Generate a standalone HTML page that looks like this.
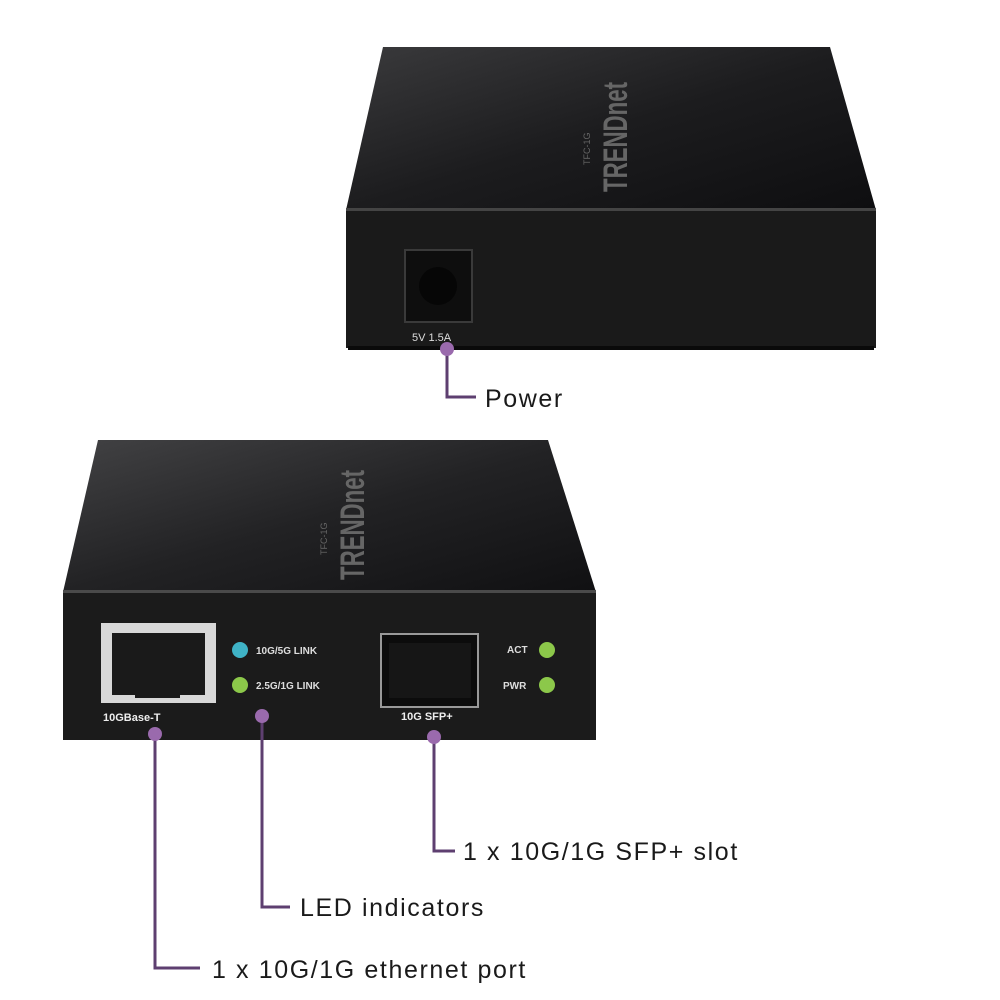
<!DOCTYPE html>
<html><head><meta charset="utf-8"><style>
html,body{margin:0;padding:0;background:#fff;width:1000px;height:1000px;overflow:hidden}
svg{display:block}
text{font-family:"Liberation Sans",sans-serif}
</style></head><body>
<svg width="1000" height="1000" viewBox="0 0 1000 1000">
<defs>
<linearGradient id="tg1" x1="0" y1="0" x2="1" y2="1">
<stop offset="0" stop-color="#3a3a3c"/><stop offset="0.5" stop-color="#1c1c1e"/><stop offset="1" stop-color="#0e0e10"/></linearGradient>
<linearGradient id="tg2" x1="0" y1="0" x2="1" y2="1">
<stop offset="0" stop-color="#424244"/><stop offset="0.5" stop-color="#222224"/><stop offset="1" stop-color="#101012"/></linearGradient>
</defs>
<!-- top device -->
<polygon points="383,47 830,47 876,210 346,210" fill="url(#tg1)"/>
<rect x="346" y="208" width="530" height="140" fill="#1a1a1a"/>
<rect x="346" y="208" width="530" height="3" fill="#444"/>
<rect x="348" y="346" width="526" height="4" fill="#0a0a0a"/>
<text transform="translate(627,192) rotate(-90)" font-size="34" font-weight="bold" fill="#666" textLength="110" lengthAdjust="spacingAndGlyphs">TRENDnet</text>
<text transform="translate(590,165) rotate(-90)" font-size="9" fill="#666">TFC-1G</text>
<rect x="405" y="250" width="67" height="72" fill="#0e0e0e" stroke="#3a3a3a" stroke-width="2"/>
<circle cx="438" cy="286" r="19" fill="#060606"/>
<text x="412" y="341" font-size="11" fill="#ddd">5V  1.5A</text>
<!-- bottom device -->
<polygon points="98,440 548,440 596,592 63,592" fill="url(#tg2)"/>
<rect x="63" y="590" width="533" height="150" fill="#1b1b1b"/>
<rect x="63" y="590" width="533" height="3" fill="#4a4a4a"/>
<text transform="translate(364,580) rotate(-90)" font-size="34" font-weight="bold" fill="#666" textLength="110" lengthAdjust="spacingAndGlyphs">TRENDnet</text>
<text transform="translate(327,555) rotate(-90)" font-size="9" fill="#666">TFC-1G</text>
<rect x="101" y="623" width="115" height="80" fill="#d8d8d8"/>
<rect x="112" y="633" width="93" height="62" fill="#1a1a1a"/>
<rect x="135" y="690" width="45" height="8" fill="#1a1a1a"/>
<text x="103" y="721" font-size="11" font-weight="bold" fill="#eee">10GBase-T</text>
<circle cx="240" cy="650" r="8" fill="#3fb3c6"/>
<circle cx="240" cy="685" r="8" fill="#8cc84a"/>
<text x="256" y="654" font-size="10" font-weight="bold" fill="#ddd">10G/5G LINK</text>
<text x="256" y="689" font-size="10" font-weight="bold" fill="#ddd">2.5G/1G LINK</text>
<rect x="381" y="634" width="97" height="73" fill="#0c0c0c" stroke="#999" stroke-width="2"/>
<rect x="389" y="643" width="82" height="55" fill="#161616"/>
<text x="401" y="720" font-size="11" font-weight="bold" fill="#eee">10G SFP+</text>
<text x="507" y="653" font-size="10" font-weight="bold" fill="#ddd">ACT</text>
<text x="503" y="689" font-size="10" font-weight="bold" fill="#ddd">PWR</text>
<circle cx="547" cy="650" r="8" fill="#8cc84a"/>
<circle cx="547" cy="685" r="8" fill="#8cc84a"/>
<!-- connectors -->
<g stroke="#5e3f70" stroke-width="3" fill="none">
<polyline points="447,350 447,397 476,397"/>
<polyline points="155,733 155,968 200,968"/>
<polyline points="262,716 262,907 290,907"/>
<polyline points="434,737 434,851 455,851"/>
</g>
<g fill="#9a6aad">
<circle cx="447" cy="349" r="7"/>
<circle cx="155" cy="734" r="7"/>
<circle cx="262" cy="716" r="7"/>
<circle cx="434" cy="737" r="7"/>
</g>
<g font-size="25" fill="#1a1a1a" letter-spacing="1.6">
<text x="485" y="407">Power</text>
<text x="463" y="860">1 x 10G/1G SFP+ slot</text>
<text x="300" y="916">LED indicators</text>
<text x="212" y="978">1 x 10G/1G ethernet port</text>
</g>
</svg>
</body></html>
